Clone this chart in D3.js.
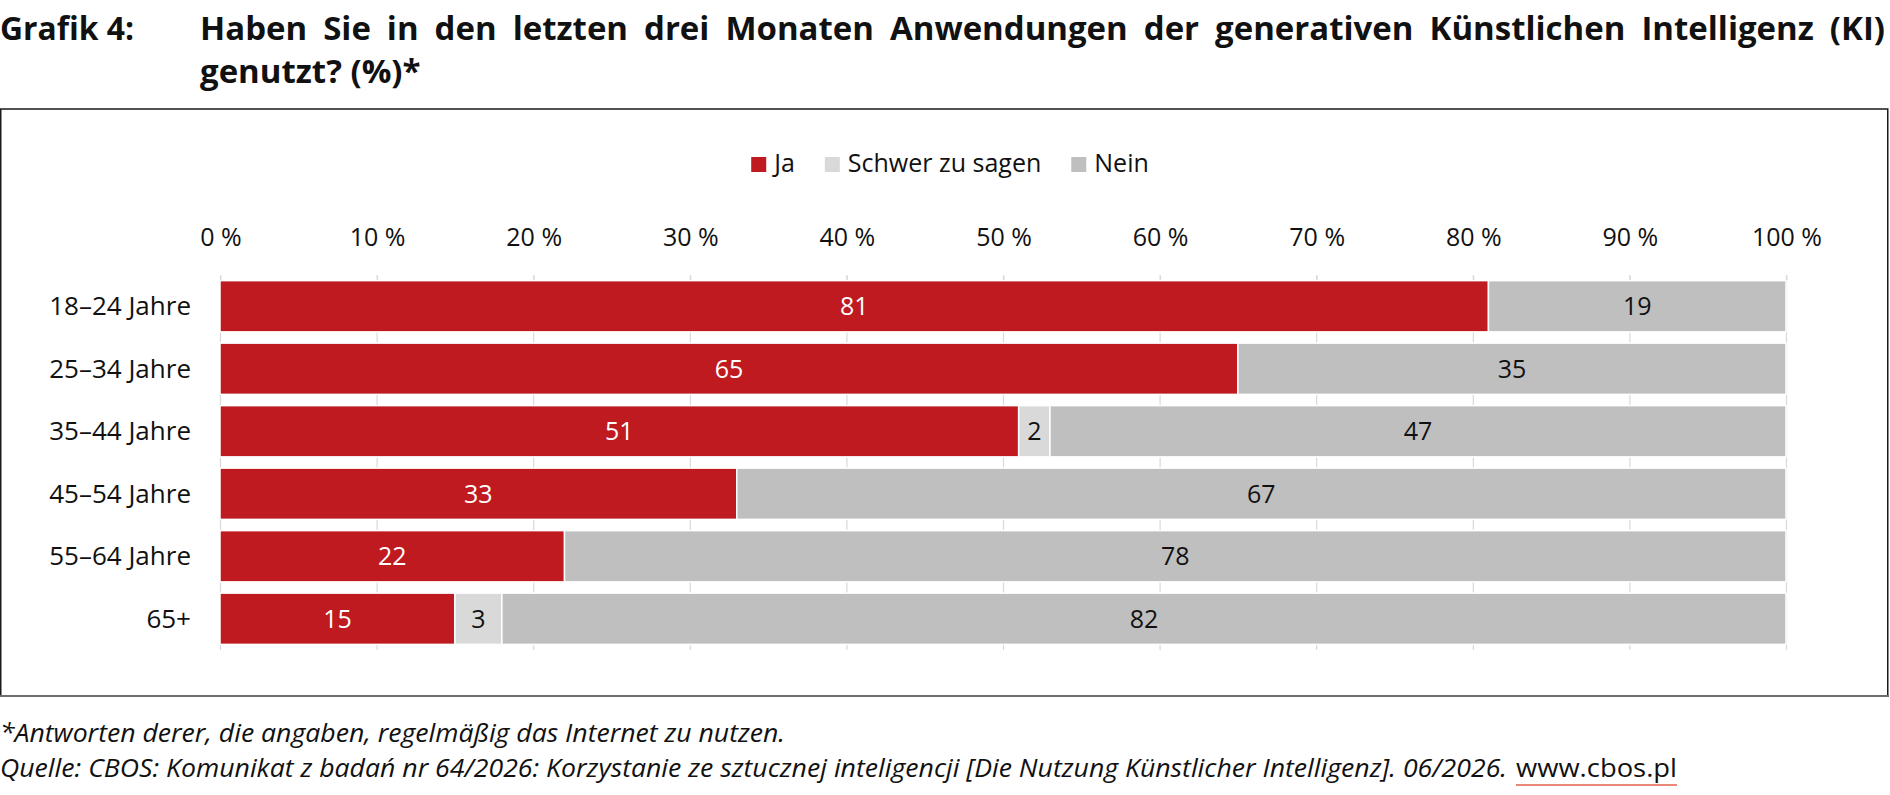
<!DOCTYPE html>
<html>
<head>
<meta charset="utf-8">
<script src="https://cdn.jsdelivr.net/npm/d3@7"></script>
<style>
body { margin: 0; background: #fff; }
svg { display: block; }
text { font-family: "Open Sans", "Noto Sans", sans-serif; fill: #111; }
</style>
</head>
<body>
<div id="chart"></div>
<script>
// data
var categories = ["18–24 Jahre", "25–34 Jahre", "35–44 Jahre", "45–54 Jahre", "55–64 Jahre", "65+"];
var ja = [81, 65, 51, 33, 22, 15];
var schwer = [0, 0, 2, 0, 0, 3];
var nein = [19, 35, 47, 67, 78, 82];
var seriesNames = ["Ja", "Schwer zu sagen", "Nein"];
var seriesColors = ["#be1a20", "#d9d9d9", "#bfbfbf"];
var labelColors = ["#ffffff", "#111111", "#111111"];
var xTicks = [0, 10, 20, 30, 40, 50, 60, 70, 80, 90, 100];

var titleLabel = "Grafik 4:";
var titleLine1 = "Haben Sie in den letzten drei Monaten Anwendungen der generativen Künstlichen Intelligenz (KI)";
var titleLine2 = "genutzt? (%)*";
var note = "*Antworten derer, die angaben, regelmäßig das Internet zu nutzen.";
var source = "Quelle: CBOS: Komunikat z badań nr 64/2026: Korzystanie ze sztucznej inteligencji [Die Nutzung Künstlicher Intelligenz]. 06/2026.";
var sourceUrl = "www.cbos.pl";

var W = 1890, H = 795;

var svg = d3.select("#chart").append("svg")
	.attr("width", W)
	.attr("height", H);

// fit a text element to a width if it is too far off
function fitWidth(sel, w) {
	var nat = sel.node().getComputedTextLength();
	if (Math.abs(nat - w) / w > 0.02) {
		sel.attr("textLength", w).attr("lengthAdjust", "spacingAndGlyphs");
	}
}

// ---- title ----
var tSize = 33;
var lab = svg.append("text")
	.attr("x", 0).attr("y", 40)
	.style("font-size", tSize + "px").style("font-weight", 700)
	.text(titleLabel);
fitWidth(lab, 134);

var words = titleLine1.split(" ");
var left = 200, right = 1885;
var wg = svg.append("g");
var wNodes = words.map(function(w) {
	return wg.append("text")
		.attr("y", 40)
		.style("font-size", tSize + "px").style("font-weight", 700)
		.text(w);
});
var natW = wNodes.map(function(n) { return n.node().getComputedTextLength(); });
var sumW = d3.sum(natW);
var k = Math.min(1, (right - left - (words.length - 1) * 16) / sumW);
var gap = (right - left - k * sumW) / (words.length - 1);
var cx = left;
wNodes.forEach(function(n, i) {
	n.attr("x", cx);
	if (k < 1) n.attr("textLength", natW[i] * k).attr("lengthAdjust", "spacingAndGlyphs");
	cx += natW[i] * k + gap;
});
var l2 = svg.append("text")
	.attr("x", left).attr("y", 83)
	.style("font-size", tSize + "px").style("font-weight", 700)
	.text(titleLine2);
if (k < 1) l2.attr("textLength", l2.node().getComputedTextLength() * k).attr("lengthAdjust", "spacingAndGlyphs");

// ---- frame ----
svg.append("rect")
	.attr("x", 0.75).attr("y", 109)
	.attr("width", 1887).attr("height", 587)
	.attr("fill", "none")
	.attr("stroke", "#1a1a1a")
	.attr("stroke-width", 1.5);
svg.append("line")
	.attr("x1", 0).attr("x2", 1889)
	.attr("y1", 696).attr("y2", 696)
	.attr("stroke", "#6e6e6e")
	.attr("stroke-width", 2);

// ---- scales ----
var x = d3.scaleLinear().domain([0, 100]).range([220, 1786]);
var y = d3.scaleBand().domain(categories).range([275, 650])
	.paddingInner(0.18).paddingOuter(0.09);

// gridlines
svg.append("g").selectAll("line")
	.data(xTicks)
	.enter().append("line")
	.attr("x1", function(d) { return x(d) + 0.5; })
	.attr("x2", function(d) { return x(d) + 0.5; })
	.attr("y1", 275).attr("y2", 650)
	.attr("stroke", "#d9d9d9")
	.attr("stroke-width", 1.2);

// top axis
var axis = svg.append("g")
	.attr("transform", "translate(0.5,280)")
	.call(d3.axisTop(x).tickValues(xTicks).tickSize(4).tickSizeOuter(0).tickPadding(30)
		.tickFormat(function(d) { return d + " %"; }));
axis.select(".domain").attr("stroke", "#d9d9d9").attr("stroke-width", 1.2);
axis.selectAll(".tick line").attr("stroke", "#d9d9d9");
axis.selectAll(".tick text")
	.style("font-family", "'Open Sans', sans-serif")
	.style("font-size", "25px")
	.attr("fill", "#111");

// ---- bars ----
var table = categories.map(function(c, i) {
	return { cat: c, "Ja": ja[i], "Schwer zu sagen": schwer[i], "Nein": nein[i] };
});
var stacked = d3.stack().keys(seriesNames)(table);

var groups = svg.append("g").selectAll("g.series")
	.data(stacked)
	.enter().append("g")
	.attr("class", "series");

groups.selectAll("rect")
	.data(function(s) { return s.filter(function(d) { return d[1] - d[0] > 0; }); })
	.enter().append("rect")
	.attr("x", function(d) { return x(d[0]); })
	.attr("y", function(d) { return y(d.data.cat); })
	.attr("width", function(d) { return x(d[1]) - x(d[0]); })
	.attr("height", y.bandwidth())
	.attr("fill", function() { return seriesColors[d3.select(this.parentNode).datum().index]; })
	.attr("stroke", "#fff")
	.attr("stroke-width", 1.5);

groups.selectAll("text")
	.data(function(s) { return s.filter(function(d) { return d[1] - d[0] > 0; }); })
	.enter().append("text")
	.attr("x", function(d) { return (x(d[0]) + x(d[1])) / 2; })
	.attr("y", function(d) { return y(d.data.cat) + y.bandwidth() / 2 + 9; })
	.attr("text-anchor", "middle")
	.style("font-size", "25px")
	.style("fill", function() { return labelColors[d3.select(this.parentNode).datum().index]; })
	.text(function(d) { return d[1] - d[0]; });

// category labels
svg.append("g").selectAll("text")
	.data(categories)
	.enter().append("text")
	.attr("x", 191)
	.attr("y", function(d) { return y(d) + y.bandwidth() / 2 + 9; })
	.attr("text-anchor", "end")
	.style("font-size", "26px")
	.text(function(d) { return d; });

// ---- legend ----
var leg = svg.append("g");
var lx = 0;
seriesNames.forEach(function(n, i) {
	var item = leg.append("g").attr("transform", "translate(" + lx + ",0)");
	item.append("rect")
		.attr("x", 0).attr("y", 157)
		.attr("width", 15).attr("height", 15)
		.attr("fill", seriesColors[i]);
	var t = item.append("text")
		.attr("x", 23).attr("y", 172)
		.style("font-size", "25px")
		.text(n);
	lx += 23 + t.node().getComputedTextLength() + 30;
});
leg.attr("transform", "translate(" + (950 - (lx - 30) / 2) + ",0)");

// ---- footnotes ----
var n1 = svg.append("text")
	.attr("x", 0).attr("y", 742)
	.style("font-size", "25px").style("font-style", "italic")
	.text(note);
fitWidth(n1, 785);
var n2 = svg.append("text")
	.attr("x", 0).attr("y", 777)
	.style("font-size", "25px").style("font-style", "italic")
	.text(source);
fitWidth(n2, 1507);
var url = svg.append("text")
	.attr("x", 1516).attr("y", 777)
	.style("font-size", "25px")
	.text(sourceUrl);
fitWidth(url, 161);
svg.append("line")
	.attr("x1", 1516).attr("x2", 1677)
	.attr("y1", 785).attr("y2", 785)
	.attr("stroke", "#e0604c")
	.attr("stroke-width", 1.5);
</script>
</body>
</html>
